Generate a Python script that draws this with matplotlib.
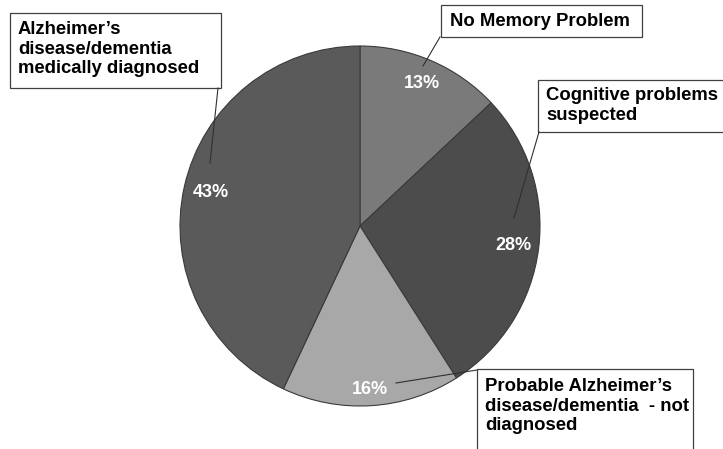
import matplotlib.pyplot as plt
from matplotlib.patches import Rectangle
from matplotlib.lines import Line2D
import numpy as np

categories = [
    "No Memory Problem",
    "Cognitive problems\nsuspected",
    "Probable Alzheimer\u2019s\ndisease/dementia  - not\ndiagnosed",
    "Alzheimer\u2019s\ndisease/dementia\nmedically diagnosed",
]
shares = [13, 28, 16, 43]
colors = ["#7a7a7a", "#4c4c4c", "#a8a8a8", "#5a5a5a"]
pct_dist = [0.86, 0.86, 0.91, 0.85]

W, H = 723, 449
fig = plt.figure(figsize=(W / 100, H / 100), dpi=100)
fig.patch.set_facecolor("white")


def fx(x):
    return x / W


def fy(y):
    return 1 - y / H


# pie centred at (360, 226) px with a 180 px radius
cx, cy, r = 360, 226, 180
ax = fig.add_axes([fx(cx - r), fy(cy + r), 2 * r / W, 2 * r / H])
wedges, _ = ax.pie(shares, colors=colors, startangle=90, counterclock=False,
                   wedgeprops=dict(edgecolor="#3a3a3a", linewidth=0.8))
ax.set_xlim(-1, 1)
ax.set_ylim(-1, 1)
ax.set_aspect("equal")
ax.axis("off")

for w, val, d in zip(wedges, shares, pct_dist):
    mid = np.deg2rad((w.theta1 + w.theta2) / 2)
    ax.text(d * np.cos(mid), d * np.sin(mid), f"{val}%", ha="center", va="center",
            color="white", fontsize=13, fontweight="bold", family="Liberation Sans")

# label boxes: (left, top, right, bottom) in px, text origin, leader line
boxes = [
    ((441, 5, 642, 37), (450, 13), ((440, 37), (423, 66))),
    ((538, 80, 730, 132), (546, 87), ((539, 132), (514, 218))),
    ((477, 369, 693, 455), (485, 378), ((477, 370), (396, 383))),
    ((10, 13, 221, 88), (18, 21), ((218, 88), (210, 163))),
]

for label, (box, tpos, leader) in zip(categories, boxes):
    x0, y0, x1, y1 = box
    fig.add_artist(Rectangle((fx(x0), fy(y1)), (x1 - x0) / W, (y1 - y0) / H,
                             transform=fig.transFigure, facecolor="white",
                             edgecolor="#404040", linewidth=0.9))
    fig.text(fx(tpos[0]), fy(tpos[1]), label, ha="left", va="top", fontsize=13.3,
             fontweight="bold", family="Liberation Sans", color="black",
             linespacing=1.2)
    (lx0, ly0), (lx1, ly1) = leader
    fig.add_artist(Line2D([fx(lx0), fx(lx1)], [fy(ly0), fy(ly1)],
                          transform=fig.transFigure, color="#303030", linewidth=0.8))

fig.savefig("out.png", dpi=100)
